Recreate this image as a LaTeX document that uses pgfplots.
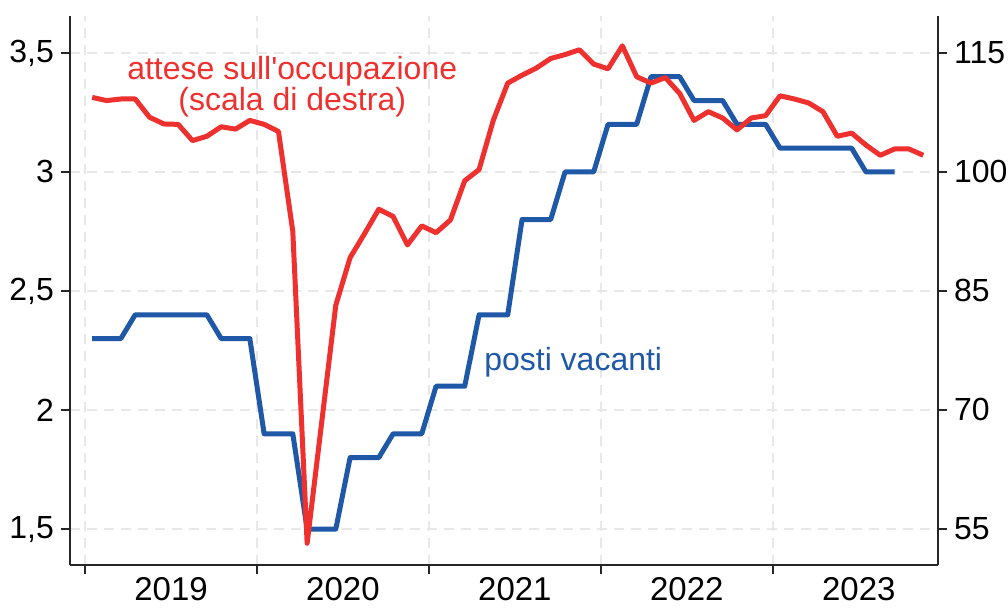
\documentclass[border=0pt]{standalone}
\usepackage{fontspec}
\setmainfont{Liberation Sans}
\usepackage{pgfplots}
\pgfplotsset{compat=1.18}
\definecolor{vacred}{RGB}{238,48,46}
\definecolor{vacblue}{RGB}{31,88,167}
\definecolor{gridgray}{RGB}{232,232,232}

% months since Jan 2019 (0 = Jan 2019)
\pgfplotstableread{
t v
0 2.3
1 2.3
2 2.3
3 2.4
4 2.4
5 2.4
6 2.4
7 2.4
8 2.4
9 2.3
10 2.3
11 2.3
12 1.9
13 1.9
14 1.9
15 1.5
16 1.5
17 1.5
18 1.8
19 1.8
20 1.8
21 1.9
22 1.9
23 1.9
24 2.1
25 2.1
26 2.1
27 2.4
28 2.4
29 2.4
30 2.8
31 2.8
32 2.8
33 3.0
34 3.0
35 3.0
36 3.2
37 3.2
38 3.2
39 3.4
40 3.4
41 3.4
42 3.3
43 3.3
44 3.3
45 3.2
46 3.2
47 3.2
48 3.1
49 3.1
50 3.1
51 3.1
52 3.1
53 3.1
54 3.0
55 3.0
56 3.0
}\vacanti

\pgfplotstableread{
t v
0 109.4
1 109.0
2 109.2
3 109.2
4 106.9
5 106.05
6 106.0
7 103.95
8 104.5
9 105.7
10 105.4
11 106.5
12 106.0
13 105.1
14 92.5
15 53.2
16 68.2
17 83.2
18 89.2
19 92.2
20 95.3
21 94.4
22 90.8
23 93.2
24 92.35
25 93.95
26 98.9
27 100.3
28 106.55
29 111.2
30 112.2
31 113.1
32 114.3
33 114.8
34 115.4
35 113.6
36 113.0
37 115.9
38 112.0
39 111.2
40 111.9
41 109.9
42 106.5
43 107.6
44 106.8
45 105.3
46 106.8
47 107.1
48 109.6
49 109.2
50 108.7
51 107.6
52 104.5
53 104.9
54 103.4
55 102.1
56 102.9
57 102.9
58 102.1
}\attese

\pgfplotsset{
  common/.style={
    scale only axis,
    width=434pt, height=274.5pt,
    xmin=-1.55, xmax=59.03,
    tick align=outside,
    major tick length=4.5pt,
    axis line style={black!85, line width=0.7pt},
    tick style={black!85, line width=0.7pt},
    tick label style={font=\fontsize{16}{19}\selectfont},
    /pgf/number format/assume math mode=true,
    /pgf/number format/use comma,
  },
}

\begin{document}
\begin{tikzpicture}
\useasboundingbox (-35pt,-21.5pt) rectangle (469pt,282.5pt);
\begin{axis}[
  common,
  axis x line*=bottom, axis y line*=left,
  ymin=1.349, ymax=3.655,
  ytick={1.5,2,2.5,3,3.5},
  xtick={-0.5,11.5,23.5,35.5,47.5},
  xticklabels={},
  extra x ticks={5.5,17.5,29.5,41.5,53.5},
  extra x tick labels={2019,2020,2021,2022,2023},
  extra x tick style={major tick length=0pt, grid=none,
    tick label style={yshift=-2.5pt, font=\fontsize{16.5}{19}\selectfont}},
  grid=major,
  grid style={gridgray, line width=0.8pt, dash pattern=on 5pt off 3.5pt},
]
\addplot[vacblue, line width=2.5pt, line join=round] table[x=t, y=v] {\vacanti};
\node[vacblue, font=\fontsize{16}{19}\selectfont] at (axis cs:33.57,2.20) {posti vacanti};
\end{axis}
\begin{axis}[
  common,
  axis x line=none, axis y line*=right,
  ymin=50.46, ymax=119.66,
  ytick={55,70,85,100,115},
]
\addplot[vacred, line width=2.5pt, line join=round] table[x=t, y=v] {\attese};
\node[vacred, align=center, font=\fontsize{16}{15.5}\selectfont] at (axis cs:13.96,110.8) {attese sull\textquotesingle occupazione\\(scala di destra)};
\end{axis}
\end{tikzpicture}
\end{document}
